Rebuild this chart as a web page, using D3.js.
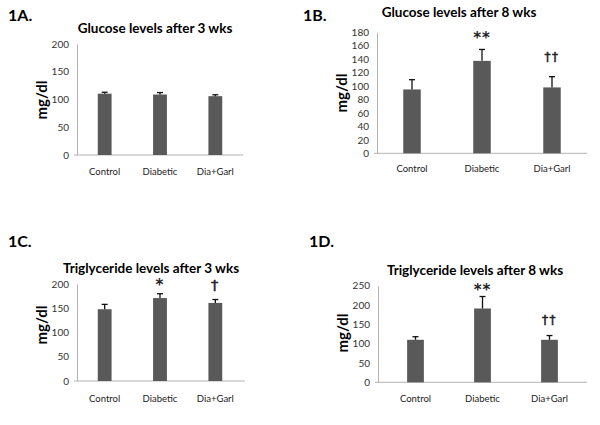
<!DOCTYPE html>
<html>
<head>
<meta charset="utf-8">
<script src="https://cdn.jsdelivr.net/npm/d3@7"></script>
<style>
  html, body { margin: 0; padding: 0; background: #fff; }
  svg { display: block; font-family: Lato, "Open Sans", sans-serif; }
</style>
</head>
<body>
<svg id="chart" width="600" height="425"></svg>
<script>
// ---- data ----
const categories = ["Control", "Diabetic", "Dia+Garl"];

const glucose3Values = [110.5, 109, 106];
const glucose3Errors = [2.5, 3.5, 2.5];
const glucose3Marks  = ["", "", ""];
const glucose3Ticks  = [0, 50, 100, 150, 200];

const glucose8Values = [95, 137.5, 98];
const glucose8Errors = [14.5, 17, 16];
const glucose8Marks  = ["", "**", "††"];
const glucose8Ticks  = [0, 20, 40, 60, 80, 100, 120, 140, 160, 180];

const trig3Values = [148, 171, 161];
const trig3Errors = [10, 9, 7];
const trig3Marks  = ["", "*", "†"];
const trig3Ticks  = [0, 50, 100, 150, 200];

const trig8Values = [110, 191, 110];
const trig8Errors = [8, 31, 11];
const trig8Marks  = ["", "**", "††"];
const trig8Ticks  = [0, 50, 100, 150, 200, 250];

const panelLabels = ["1A.", "1B.", "1C.", "1D."];
const panelTitles = [
  "Glucose levels after 3 wks",
  "Glucose levels after 8 wks",
  "Triglyceride levels after 3 wks",
  "Triglyceride levels after 8 wks"
];
const yAxisTitle = "mg/dl";

// ---- layout ----
const panels = [
  { values: glucose3Values, errors: glucose3Errors, marks: glucose3Marks, ticks: glucose3Ticks,
    label: panelLabels[0], title: panelTitles[0],
    labelPos: [8, 21], titlePos: [155, 33], yTitlePos: [41, 100],
    axisX: [77, 243], bandX: [77, 243], yRange: [155, 44], xLabelY: 175,
    starGap: 8, daggerGap: 8, daggerSize: 12 },
  { values: glucose8Values, errors: glucose8Errors, marks: glucose8Marks, ticks: glucose8Ticks,
    label: panelLabels[1], title: panelTitles[1],
    labelPos: [303, 21], titlePos: [459, 17], yTitlePos: [341, 93],
    axisX: [377, 587], bandX: [377, 587], yRange: [153.3, 32.3], xLabelY: 172,
    starGap: 11, daggerGap: 13, daggerSize: 12 },
  { values: trig3Values, errors: trig3Errors, marks: trig3Marks, ticks: trig3Ticks,
    label: panelLabels[2], title: panelTitles[2],
    labelPos: [8, 247], titlePos: [151, 273], yTitlePos: [41, 325],
    axisX: [77, 245], bandX: [77, 243], yRange: [381, 284], xLabelY: 402,
    starGap: 8.5, daggerGap: 6.5, daggerSize: 14.5 },
  { values: trig8Values, errors: trig8Errors, marks: trig8Marks, ticks: trig8Ticks,
    label: panelLabels[3], title: panelTitles[3],
    labelPos: [309, 247], titlePos: [475, 275], yTitlePos: [342, 333],
    axisX: [378, 587], bandX: [382, 583], yRange: [382.3, 285.7], xLabelY: 402,
    starGap: 6, daggerGap: 8.5, daggerSize: 12 }
];

const svg = d3.select("#chart");
const barColor = "#595959";
const axisColor = "#b3b3b3";

panels.forEach(p => {
  const g = svg.append("g");
  const yMax = p.ticks[p.ticks.length - 1];
  const y = d3.scaleLinear().domain([0, yMax]).range(p.yRange);
  const x = d3.scaleBand().domain(categories).range(p.bandX);
  const bw = x.bandwidth() * 0.25;

  // panel label
  g.append("text").attr("x", p.labelPos[0]).attr("y", p.labelPos[1])
    .attr("font-size", 16).attr("font-weight", "bold").attr("fill", "#000").text(p.label);

  // title
  g.append("text").attr("x", p.titlePos[0]).attr("y", p.titlePos[1])
    .attr("text-anchor", "middle").attr("font-size", 13.5).attr("font-weight", "bold")
    .attr("fill", "#000").text(p.title);

  // y title
  g.append("text")
    .attr("transform", `translate(${p.yTitlePos[0]},${p.yTitlePos[1]}) rotate(-90)`)
    .attr("text-anchor", "middle").attr("dominant-baseline", "central")
    .attr("font-size", 15).attr("font-weight", "bold").attr("fill", "#000").text(yAxisTitle);

  // y axis
  const yAxis = d3.axisLeft(y).tickValues(p.ticks).tickSize(0).tickPadding(8);
  const yg = g.append("g").attr("transform", `translate(${p.axisX[0]},0)`).call(yAxis);
  yg.select(".domain").attr("stroke", axisColor);
  yg.selectAll(".tick text").attr("font-size", 10).attr("fill", "#333")
    .attr("font-family", "Lato, 'Open Sans', sans-serif");

  // x axis line
  g.append("line").attr("x1", p.axisX[0] - 3).attr("x2", p.axisX[1])
    .attr("y1", y(0)).attr("y2", y(0)).attr("stroke", axisColor);

  // x labels
  g.selectAll(".xl").data(categories).enter().append("text")
    .attr("x", d => x(d) + x.bandwidth() / 2).attr("y", p.xLabelY)
    .attr("text-anchor", "middle").attr("font-size", 9.5).attr("fill", "#222").text(d => d);

  // bars
  g.selectAll(".bar").data(p.values).enter().append("rect")
    .attr("x", (d, i) => x(categories[i]) + x.bandwidth() / 2 - bw / 2)
    .attr("y", d => y(d))
    .attr("width", bw)
    .attr("height", d => y(0) - y(d))
    .attr("fill", barColor);

  // error bars (upper only)
  p.values.forEach((v, i) => {
    const cx = x(categories[i]) + x.bandwidth() / 2;
    const top = y(v + p.errors[i]);
    g.append("line").attr("x1", cx).attr("x2", cx)
      .attr("y1", y(v)).attr("y2", top)
      .attr("stroke", "#111").attr("stroke-width", 1.3);
    g.append("line").attr("x1", cx - 3).attr("x2", cx + 3)
      .attr("y1", top).attr("y2", top)
      .attr("stroke", "#111").attr("stroke-width", 1.3);
    if (p.marks[i]) {
      const isStar = p.marks[i].includes("*");
      const fs = isStar ? 15 : p.daggerSize;
      const baseY = isStar ? top - p.starGap + 0.32 * fs : top - p.daggerGap - 0.22 * fs;
      const t = g.append("text")
        .attr("x", cx).attr("y", baseY)
        .attr("text-anchor", "middle")
        .attr("font-family", "'DejaVu Sans', sans-serif")
        .attr("font-size", fs)
        .attr("font-weight", isStar ? "bold" : "normal")
        .attr("letter-spacing", isStar ? 1 : 1.5)
        .attr("fill", "#222").text(p.marks[i]);
      if (!isStar) t.attr("stroke", "#222").attr("stroke-width", 0.5);
    }
  });
});
</script>
</body>
</html>
